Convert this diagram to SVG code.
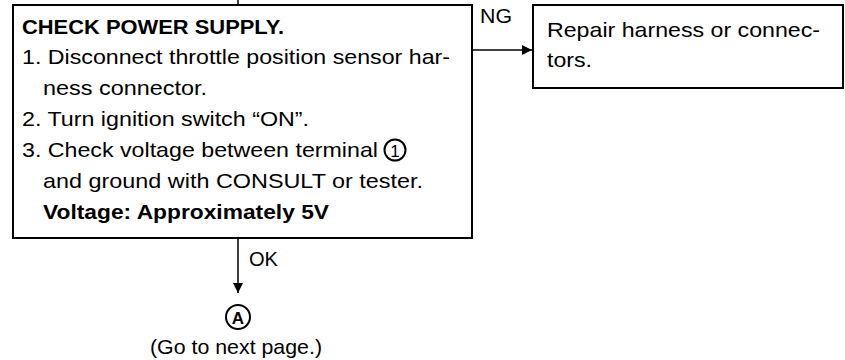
<svg xmlns="http://www.w3.org/2000/svg" width="845" height="360" viewBox="0 0 845 360">
<defs>
<style>
.box{fill:#fff;stroke:#000;stroke-width:2}
.t{font-family:"Liberation Sans",Arial,sans-serif;font-size:21px;fill:#000}
.b{font-weight:bold}
.ln{stroke:#000;stroke-width:1.5;fill:none}
.circ{fill:none;stroke:#000;stroke-width:2}
</style>
<marker id="ah" viewBox="0 0 10 10" refX="10" refY="5" markerWidth="13" markerHeight="10" markerUnits="userSpaceOnUse" orient="auto">
<path d="M0,0 L10,5 L0,10 z" fill="#000"/>
</marker>
</defs>
<rect width="845" height="360" fill="#fff"/>
<g id="connectors">
<line class="ln" x1="238" y1="0" x2="238" y2="5"/>
<line class="ln" x1="472" y1="50" x2="532" y2="50" marker-end="url(#ah)"/>
<text class="t" x="480" y="23" textLength="32" lengthAdjust="spacingAndGlyphs">NG</text>
<line class="ln" x1="238" y1="238" x2="238" y2="293" marker-end="url(#ah)"/>
<text class="t" x="249" y="266" textLength="29" lengthAdjust="spacingAndGlyphs">OK</text>
</g>
<g id="check-power-supply">
<rect class="box" x="13" y="5" width="459" height="233"/>
<text class="t b" x="22" y="34" textLength="262" lengthAdjust="spacingAndGlyphs">CHECK POWER SUPPLY.</text>
<text class="t" x="22" y="64" textLength="428" lengthAdjust="spacingAndGlyphs">1. Disconnect throttle position sensor har-</text>
<text class="t" x="43" y="95" textLength="164" lengthAdjust="spacingAndGlyphs">ness connector.</text>
<text class="t" x="22" y="126" textLength="287" lengthAdjust="spacingAndGlyphs">2. Turn ignition switch “ON”.</text>
<text class="t" x="22" y="157" textLength="356" lengthAdjust="spacingAndGlyphs">3. Check voltage between terminal</text>
<circle class="circ" cx="395" cy="150" r="10.5"/>
<text class="t" x="395" y="156.5" text-anchor="middle" style="font-size:17px">1</text>
<text class="t" x="43" y="188" textLength="380" lengthAdjust="spacingAndGlyphs">and ground with CONSULT or tester.</text>
<text class="t b" x="43" y="219" textLength="286" lengthAdjust="spacingAndGlyphs">Voltage: Approximately 5V</text>
</g>
<g id="repair">
<rect class="box" x="533" y="5" width="310" height="83"/>
<text class="t" x="547" y="37" textLength="273" lengthAdjust="spacingAndGlyphs">Repair harness or connec-</text>
<text class="t" x="547" y="67" textLength="45" lengthAdjust="spacingAndGlyphs">tors.</text>
</g>
<g id="next-page">
<circle class="circ" cx="238" cy="317" r="12"/>
<text class="t b" x="238" y="323.5" text-anchor="middle" style="font-size:17px">A</text>
<text class="t" x="236" y="354" text-anchor="middle" textLength="172" lengthAdjust="spacingAndGlyphs">(Go to next page.)</text>
</g>
</svg>
